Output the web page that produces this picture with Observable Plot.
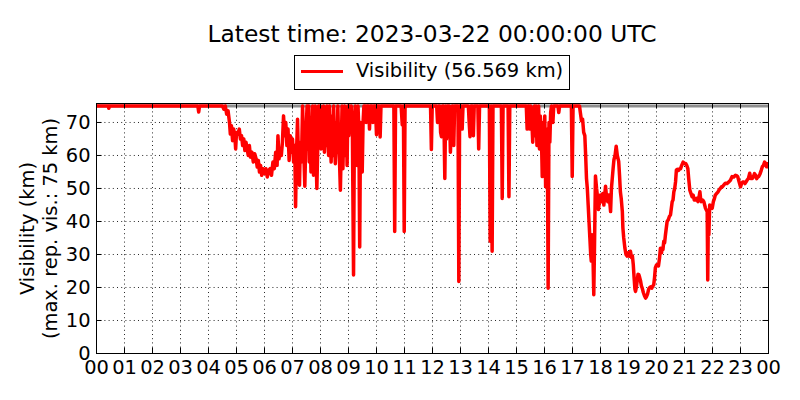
<!DOCTYPE html>
<html><head><meta charset="utf-8">
<script src="https://cdn.jsdelivr.net/npm/d3@7"></script>
<script src="https://cdn.jsdelivr.net/npm/@observablehq/plot@0.6"></script>
<style>
body{margin:0;background:#fff;font-family:"DejaVu Sans",sans-serif;color:#000;}
#fig{position:relative;width:800px;height:400px;overflow:hidden;background:#fff;}
#title{position:absolute;left:96px;width:672px;top:23.3px;text-align:center;font-size:23.33px;line-height:1;white-space:nowrap;}
#legend{position:absolute;left:294px;top:55px;width:274px;height:33px;border:1px solid #000;background:#fff;}
#legend .swatch{position:absolute;left:6px;top:14px;width:42px;height:3px;background:#ff0000;}
#legend .lab{position:absolute;left:61px;top:5px;font-size:19.44px;line-height:1;white-space:nowrap;}
#plot{position:absolute;left:0;top:96px;}
</style>
</head><body>
<div id="fig">
  <div id="title"></div>
  <div id="legend"><div class="swatch"></div><div class="lab"></div></div>
  <div id="plot"></div>
</div>
<script>
const titleText = "Latest time: 2023-03-22 00:00:00 UTC";
const latestVis = 56.569;
const maxRepVis = 75;
const yLabel = "Visibility (km)\n(max. rep. vis.: 75 km)";
const xTicks = [0,1,2,3,4,5,6,7,8,9,10,11,12,13,14,15,16,17,18,19,20,21,22,23,24];
const xTickLabels = ["00","01","02","03","04","05","06","07","08","09","10","11","12","13","14","15","16","17","18","19","20","21","22","23","00"];
const yTicks = [0,10,20,30,40,50,60,70];

// [hour of day, visibility km]
const visibilityObs = [
[0,75],[0.42,75],[0.44,74.3],[0.46,75],[3.62,75],[3.65,73.2],[3.68,75],[4.5,75],
[4.55,74],[4.6,75],[4.65,72.5],[4.7,73.5],[4.75,70],[4.78,66.5],[4.82,69],[4.86,64.5],[4.9,68],[4.94,66],[4.97,62],
[5.0,67],[5.05,66.5],[5.1,68],[5.14,65],[5.18,66],[5.22,63],[5.26,65],[5.3,61.5],[5.34,64],[5.38,62],[5.42,60],
[5.46,63],[5.5,59.5],[5.55,61],[5.6,58],[5.65,60.5],[5.7,59],[5.74,56.5],[5.78,58.5],[5.82,55],[5.86,57],[5.9,54],
[5.95,56],[6.0,54.5],[6.05,56],[6.1,53.5],[6.15,55.5],[6.2,56],[6.25,54],[6.3,58],[6.35,56],[6.4,61],[6.45,57],
[6.48,66],[6.52,59],[6.56,62],[6.6,60],[6.64,64],[6.68,72],[6.72,66],[6.76,70],[6.8,63],[6.84,68],[6.88,58.5],
[6.92,66],[6.96,61],[7.0,65],[7.04,58],[7.08,63],[7.11,44.5],[7.14,60],[7.18,71],[7.22,56],[7.25,51],[7.28,64],
[7.32,58],[7.36,75],[7.4,62],[7.44,50.7],[7.48,66],[7.52,75],
[7.55,62],[7.58,75],[7.6,58],[7.63,68],[7.66,55],[7.69,66],[7.72,75],[7.75,54],[7.78,64],[7.81,75],[7.84,60],
[7.87,50],[7.9,62],[7.93,75],[7.96,68],[7.99,75],[8.02,62],[8.05,72],[8.08,64],[8.11,75],[8.14,61],[8.17,70],
[8.2,63],[8.23,75],[8.26,66],[8.29,60],[8.32,75],[8.35,65],[8.38,58],[8.41,72],[8.44,60],[8.47,75],[8.5,64],
[8.53,57.5],[8.56,70],[8.59,61],[8.62,75],[8.65,63],[8.68,58],[8.71,49.5],[8.74,62],[8.77,75],[8.8,56],[8.83,68],
[8.86,75],[8.89,60],[8.92,72],[8.95,57],[8.98,75],[9.01,66],[9.04,75],[9.07,69],[9.1,75],[9.14,66],[9.18,23.8],
[9.21,68],[9.24,75],[9.28,70],[9.31,57],[9.34,75],[9.37,68],[9.4,32.3],[9.43,70],[9.46,60],[9.49,55],[9.52,70],
[9.55,75],[9.6,75],[9.63,70],[9.66,75],[9.72,75],[9.75,68],[9.78,75],[9.84,75],[9.87,70],[9.9,75],[9.96,75],
[10.0,66.3],[10.03,75],[10.1,75],[10.13,65.6],[10.16,75],[10.62,75],[10.65,37],[10.68,75],[10.88,75],[10.92,69.3],
[10.95,75],[10.96,75],[10.99,37],[11.02,75],
[11.93,75],[11.96,61.8],[11.99,75],[12.15,75],[12.18,70],[12.21,75],[12.26,75],[12.29,67],[12.32,65.7],[12.35,75],
[12.4,75],[12.44,53],[12.47,75],[12.5,65],[12.53,75],[12.6,75],[12.64,61],[12.67,68],[12.7,75],[12.73,75],
[12.76,63],[12.79,75],[12.91,75],[12.94,21.8],[12.97,75],[13.03,75],[13.06,68],[13.09,75],[13.28,75],[13.31,70],
[13.34,65.7],[13.37,75],[13.43,75],[13.46,66],[13.49,75],[13.62,75],[13.65,62],[13.68,75],[14.03,75],[14.06,34],
[14.09,75],[14.1,75],[14.13,31],[14.16,75],[14.46,75],[14.49,47],[14.52,75],[14.7,75],[14.73,47.5],[14.76,75],
[15.35,75],[15.38,68],[15.41,75],[15.45,75],[15.48,68],[15.51,75],[15.55,70],[15.58,64],[15.61,72],[15.64,75],
[15.67,66],[15.7,75],[15.73,63],[15.76,70],[15.79,75],[15.82,62],[15.85,72],[15.89,66],[15.92,53.6],[15.95,70],
[15.98,62],[16.01,72],[16.04,50.5],[16.07,68],[16.1,64],[16.13,19.8],[16.16,70],[16.19,64],[16.22,73],[16.25,75],
[16.3,70],[16.33,75],[16.48,75],[16.51,73],[16.54,75],[16.96,75],[16.99,53.6],[17.02,75],[17.25,75],
[17.28,73],[17.32,70.5],[17.36,71],[17.4,67],[17.44,66],[17.47,60],[17.5,53],[17.53,50],[17.56,45],[17.59,40],
[17.62,35],[17.65,30],[17.67,28],[17.7,36],[17.73,30],[17.76,17.8],[17.79,35],[17.82,53.8],[17.86,50],[17.9,47],
[17.93,43.6],[17.97,47],[18.0,48],[18.04,46],[18.08,48.5],[18.12,45],[18.15,48],[18.18,50.7],[18.22,47],[18.26,46],
[18.3,48],[18.34,45],[18.36,43],[18.39,50],[18.42,53],[18.45,56],[18.48,58.7],[18.52,60],[18.56,62.8],[18.6,60],
[18.65,58.2],[18.68,54],[18.71,49],[18.74,47],[18.78,43],[18.8,38],[18.83,35],[18.87,32],[18.91,30],[18.95,29.5],
[18.99,30.5],[19.03,29.5],[19.07,31],[19.11,29],[19.14,29.5],[19.17,27],[19.2,23],[19.23,19.5],[19.25,18.8],
[19.28,20],[19.31,22],[19.34,24],[19.37,23.9],[19.4,23],[19.43,22],[19.46,20.5],[19.49,19.8],[19.53,18.5],
[19.57,17.5],[19.61,16.8],[19.64,17.2],[19.68,18],[19.72,19.5],[19.76,20],[19.79,20.2],[19.83,19.8],[19.87,20.5],
[19.9,20.8],[19.93,23],[19.96,26],[20.0,26.8],[20.04,27],[20.07,26.5],[20.11,29],[20.14,31.9],[20.18,30.5],
[20.2,32],[20.23,31.5],[20.26,34],[20.29,33.5],[20.32,36],[20.35,38],[20.38,40],[20.42,40.5],[20.46,41.5],
[20.5,42],[20.53,44],[20.56,46],[20.59,46.5],[20.62,49],[20.65,50],[20.68,52],[20.71,55.6],[20.75,55.8],
[20.79,55.5],[20.83,56],[20.86,56],[20.9,57],[20.95,58],[21.0,57.5],[21.04,57.6],[21.08,57],[21.12,56],[21.15,53],
[21.19,49.5],[21.23,48.5],[21.27,47.5],[21.31,48],[21.35,46.5],[21.39,46.5],[21.43,47],[21.48,46],[21.52,47.5],
[21.55,49],[21.58,46.5],[21.6,46],[21.65,46.5],[21.69,46],[21.72,45],[21.75,44],[21.78,43.5],[21.81,43],
[21.83,22.3],[21.85,40],[21.87,36],[21.9,45],[21.94,44.5],[21.99,44],[22.03,46],[22.07,47],[22.1,48],[22.15,48.5],
[22.2,49],[22.23,49.5],[22.28,50],[22.32,50.5],[22.35,50.5],[22.4,51],[22.46,51.6],[22.52,51.5],[22.58,52],
[22.64,52.5],[22.7,53.6],[22.76,53.5],[22.82,54],[22.87,53.8],[22.9,53.6],[22.95,52],[23.0,50.5],[23.04,51.5],
[23.08,52],[23.12,52],[23.16,51.5],[23.2,52],[23.24,52.6],[23.28,53],[23.33,54.6],[23.37,53],[23.42,53],
[23.46,53.5],[23.5,54.5],[23.54,54],[23.58,53],[23.62,53.5],[23.65,53.6],[23.7,54.5],[23.74,55.5],[23.78,56.6],
[23.82,57],[23.86,58],[23.9,57.5],[23.93,56.6],[23.96,57.5],[23.99,57],[24.0,56.569]
];

document.getElementById("title").textContent = titleText;
document.querySelector("#legend .lab").textContent = `Visibility (${latestVis.toFixed(3)} km)`;

const W = 800, H = 304, mT = 7, mR = 32, mB = 47, mL = 96;
const fw = W - mL - mR, fh = H - mT - mB, tick = 5.5;
const grid = {stroke: "#000", strokeWidth: 1, strokeDasharray: "1,3.2", strokeOpacity: 0.85};

const chart = Plot.plot({
  width: W, height: H,
  marginTop: mT, marginRight: mR, marginBottom: mB, marginLeft: mL,
  style: {fontFamily: "DejaVu Sans", fontSize: "19.44px", color: "#000", background: "#fff", overflow: "visible"},
  x: {domain: [0, 24]},
  y: {domain: [0, maxRepVis * 1.01]},
  marks: [
    Plot.ruleX(xTicks.slice(1, -1), {...grid}),
    Plot.ruleY(yTicks.slice(1), {...grid}),
    Plot.ruleY([maxRepVis], {stroke: "#8f8f8f", strokeWidth: 3}),
    Plot.line(visibilityObs, {x: d => d[0], y: d => d[1], stroke: "#ff0000", strokeWidth: 3.5, strokeLinejoin: "round", clip: true}),
    Plot.tickX(xTicks, {x: d => d, insetTop: fh - tick, stroke: "#000"}),
    Plot.tickX(xTicks, {x: d => d, insetBottom: fh - tick, stroke: "#000"}),
    Plot.tickY(yTicks, {y: d => d, insetRight: fw - tick, stroke: "#000"}),
    Plot.tickY(yTicks, {y: d => d, insetLeft: fw - tick, stroke: "#000"}),
    Plot.frame({stroke: "#000", strokeWidth: 1}),
    Plot.axisX(xTicks, {tickSize: 0, tickPadding: 7, tickFormat: (d, i) => xTickLabels[i], label: null, fontSize: 19.44}),
    Plot.axisY(yTicks, {tickSize: 0, tickPadding: 6, label: null, fontSize: 19.44}),
    Plot.text([yLabel], {text: d => d, frameAnchor: "left", dx: -58, rotate: -90, lineHeight: 1.15, lineAnchor: "middle", textAnchor: "middle", fontSize: 19.44, fill: "#000"})
  ]
});
document.getElementById("plot").appendChild(chart);
</script>
</body></html>
